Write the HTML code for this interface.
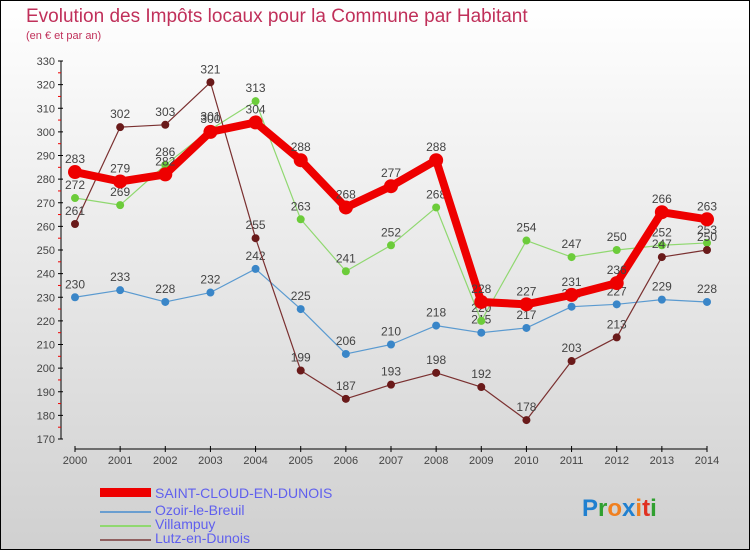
<!DOCTYPE html>
<html><head><meta charset="utf-8"><style>
body{margin:0}
#c{width:750px;height:550px;position:relative;font-family:"Liberation Sans",sans-serif}
</style></head><body>
<div id="c">
<svg id="s" width="750" height="550" xmlns="http://www.w3.org/2000/svg">
<defs><linearGradient id="bg" x1="0" y1="0" x2="0" y2="1"><stop offset="0" stop-color="#ffffff"/><stop offset="1" stop-color="#d0d0d0"/></linearGradient></defs>
<rect x="0.5" y="0.5" width="749" height="549" fill="url(#bg)" stroke="#000"/>
<text x="26" y="22" font-size="19" fill="#c0305a">Evolution des Impôts locaux pour la Commune par Habitant</text>
<text x="26" y="39" font-size="11" fill="#c0305a">(en € et par an)</text>
<g id="axes"></g><g id="series"></g>
<g>
<rect x="100" y="488" width="51" height="9" fill="#ee0000"/>
<text x="155" y="498" font-size="14" fill="#6060ee">SAINT-CLOUD-EN-DUNOIS</text>
<rect x="100" y="511" width="51" height="2" fill="#6a9ed0"/>
<text x="155" y="515" font-size="14" fill="#6060ee">Ozoir-le-Breuil</text>
<rect x="100" y="525" width="51" height="2" fill="#90d870"/>
<text x="155" y="529" font-size="14" fill="#6060ee">Villampuy</text>
<rect x="100" y="539" width="51" height="2" fill="#906060"/>
<text x="155" y="543" font-size="14" fill="#6060ee">Lutz-en-Dunois</text>
</g>
<text x="582" y="516" font-size="24" font-weight="bold"><tspan fill="#2080d0">P</tspan><tspan fill="#30a030">r</tspan><tspan fill="#f08020">o</tspan><tspan fill="#2080d0">x</tspan><tspan fill="#f08020">i</tspan><tspan fill="#e03020">t</tspan><tspan fill="#30a030">i</tspan></text>
</svg></div>
<script>
const years=[2000,2001,2002,2003,2004,2005,2006,2007,2008,2009,2010,2011,2012,2013,2014];
const yTicks=[170,180,190,200,210,220,230,240,250,260,270,280,290,300,310,320,330];
const saintCloud=[283,279,282,300,304,288,268,277,288,228,227,231,236,266,263];
const ozoir=[230,233,228,232,242,225,206,210,218,215,217,226,227,229,228];
const villampuy=[272,269,286,301,313,263,241,252,268,220,254,247,250,252,253];
const lutz=[261,302,303,321,255,199,187,193,198,192,178,203,213,247,250];
const NS="http://www.w3.org/2000/svg";
const X=i=>75+i*(707-75)/14;
const Y=v=>439-(v-170)*(439-61)/160;
function el(t,a,p){const e=document.createElementNS(NS,t);for(const k in a)e.setAttribute(k,a[k]);p.appendChild(e);return e;}
const ax=document.getElementById('axes');
let yl=el('line',{x1:61,y1:61,x2:61,y2:439,stroke:'#000'},ax);


yTicks.forEach(v=>{
 el('line',{x1:58,y1:Y(v),x2:63,y2:Y(v),stroke:'#000'},ax);
 if(v<330) el('line',{x1:58,y1:Y(v+5),x2:61,y2:Y(v+5),stroke:'#e00'},ax);
 const t=el('text',{x:55,y:Y(v)+4,'font-size':11,fill:'#444','text-anchor':'end'},ax);t.textContent=v;
 
 
});
let xl=el('line',{x1:75,y1:449,x2:707,y2:449,stroke:'#000'},ax);


years.forEach((y,i)=>{
 el('line',{x1:X(i),y1:446,x2:X(i),y2:452,stroke:'#000'},ax);
 const t=el('text',{x:X(i),y:464,'font-size':11,fill:'#444','text-anchor':'middle'},ax);t.textContent=y;
 
 
});
const sg=document.getElementById('series');
function draw(data,name,col,w,r,dot){
 const g=el('g',{},sg);
 
 
 el('polyline',{points:data.map((v,i)=>X(i)+','+Y(v)).join(' '),fill:'none',stroke:col,'stroke-width':w,'stroke-linejoin':'round'},g);
 data.forEach((v,i)=>{
  const c=el('circle',{cx:X(i),cy:Y(v),r:r,fill:dot},g);
  
  
  const t=el('text',{x:X(i),y:Y(v)-9,'font-size':12,fill:'#444','text-anchor':'middle'},g);t.textContent=v;
  
  
 });
}
draw(ozoir,'ozoir','#5a9ad0',1.2,4,'#3a86c8');
draw(villampuy,'villampuy','#90d870',1.2,4,'#6ccc3a');
draw(lutz,'lutz','#7a3030',1.2,4,'#6a1a1a');
draw(saintCloud,'saint-cloud','#ee0000',8,7,'#ee0000');
</script>
</body></html>
